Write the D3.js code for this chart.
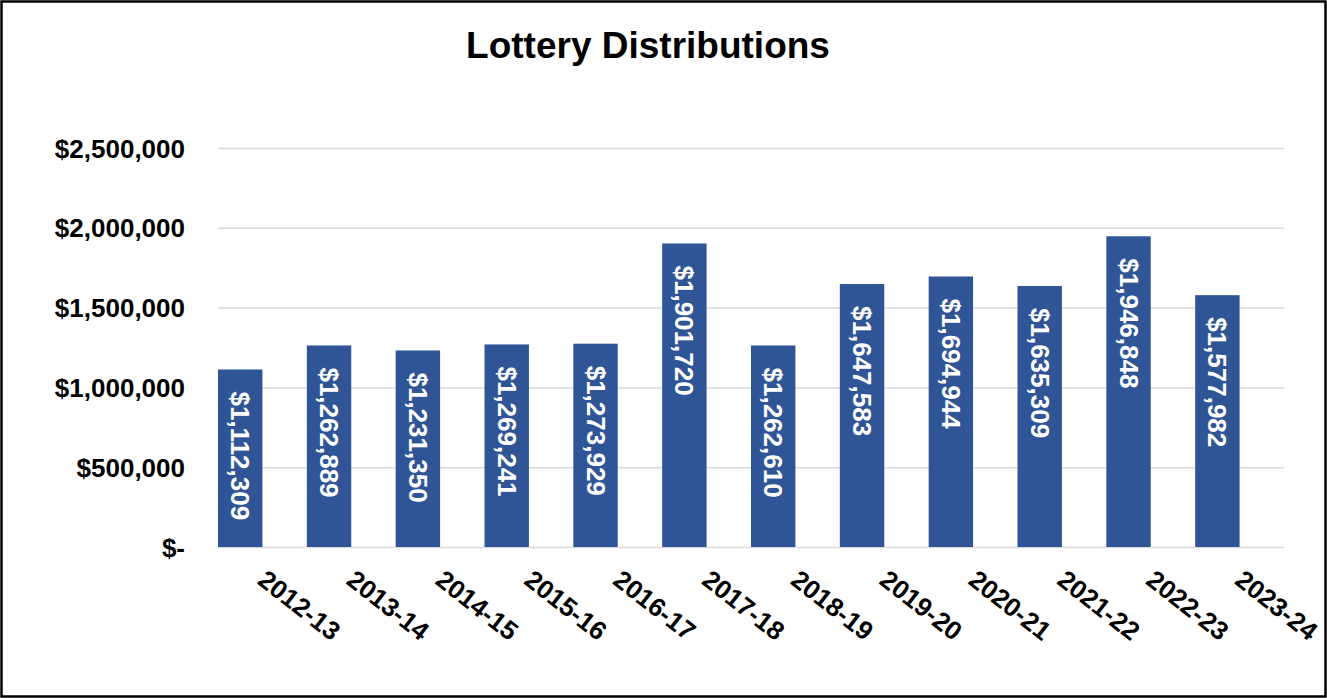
<!DOCTYPE html>
<html>
<head>
<meta charset="utf-8">
<script src="https://cdn.jsdelivr.net/npm/d3@7"></script>
<style>
    body { margin: 0; background: #fff; }
    text { font-family: "Liberation Sans", Arial, sans-serif; font-weight: bold; }
</style>
</head>
<body>
<div id="chart"></div>
<script>
const years = ['2012-13', '2013-14', '2014-15', '2015-16', '2016-17', '2017-18',
    '2018-19', '2019-20', '2020-21', '2021-22', '2022-23', '2023-24'];

const distributions = [1112309, 1262889, 1231350, 1269241, 1273929, 1901720,
    1262610, 1647583, 1694944, 1635309, 1946848, 1577982];

const yTicks = [0, 500000, 1000000, 1500000, 2000000, 2500000];

const size = { width: 1327, height: 698 };
const plot = { left: 218, right: 1284, top: 148, bottom: 547 };

const svg = d3.select('#chart')
    .append('svg')
    .attr('width', size.width)
    .attr('height', size.height);

svg.append('rect')
    .attr('x', 1.5)
    .attr('y', 1.5)
    .attr('width', size.width - 3)
    .attr('height', size.height - 3)
    .attr('fill', '#fff')
    .attr('stroke', '#000')
    .attr('stroke-width', 2.5);

svg.append('text')
    .attr('x', 648)
    .attr('y', 58)
    .attr('text-anchor', 'middle')
    .style('font-size', '37px')
    .text('Lottery Distributions');

const step = (plot.right - plot.left) / years.length;

// bars sit on the left half of each category slot
const x = d3.scaleBand()
    .domain(years)
    .range([plot.left, plot.left + step * (years.length - 0.5)])
    .paddingInner(0.5)
    .paddingOuter(0);

const y = d3.scaleLinear()
    .domain([0, 2500000])
    .range([plot.bottom, plot.top]);

const money = d => d === 0 ? '$-' : '$' + d3.format(',')(d);

// gridlines + y labels
const yAxis = d3.axisLeft(y)
    .tickValues(yTicks)
    .tickSize(-(plot.right - plot.left))
    .tickPadding(33)
    .tickFormat(money);

const GroupY = svg.append('g')
    .attr('transform', `translate(${plot.left}, 0)`)
    .call(yAxis);

GroupY.select('.domain').remove();
GroupY.selectAll('.tick line')
    .attr('stroke', '#d9d9d9')
    .attr('stroke-width', 1.5);
GroupY.selectAll('.tick text')
    .attr('fill', '#000')
    .style('font-size', '26px')
    .attr('dy', '0.35em');

const data = years.map((year, i) => ({ year: year, value: distributions[i] }));

svg.selectAll('rect.bar')
    .data(data)
    .enter()
    .append('rect')
        .attr('class', 'bar')
        .attr('x', d => x(d.year))
        .attr('y', d => y(d.value))
        .attr('width', x.bandwidth())
        .attr('height', d => y(0) - y(d.value))
        .attr('fill', '#2f5597');

svg.selectAll('text.value')
    .data(data)
    .enter()
    .append('text')
        .attr('class', 'value')
        .attr('transform', d => `translate(${x(d.year) + x.bandwidth() / 2}, ${y(d.value) + 22}) rotate(90)`)
        .attr('dominant-baseline', 'central')
        .attr('fill', '#fff')
        .style('font-size', '26px')
        .text(d => money(d.value));

svg.selectAll('text.year')
    .data(years)
    .enter()
    .append('text')
        .attr('class', 'year')
        .attr('transform', d => `translate(${x(d) + x.bandwidth() / 2 + 16}, ${plot.bottom + 36}) rotate(38)`)
        .attr('fill', '#000')
        .style('font-size', '26px')
        .text(d => d);
</script>
</body>
</html>
